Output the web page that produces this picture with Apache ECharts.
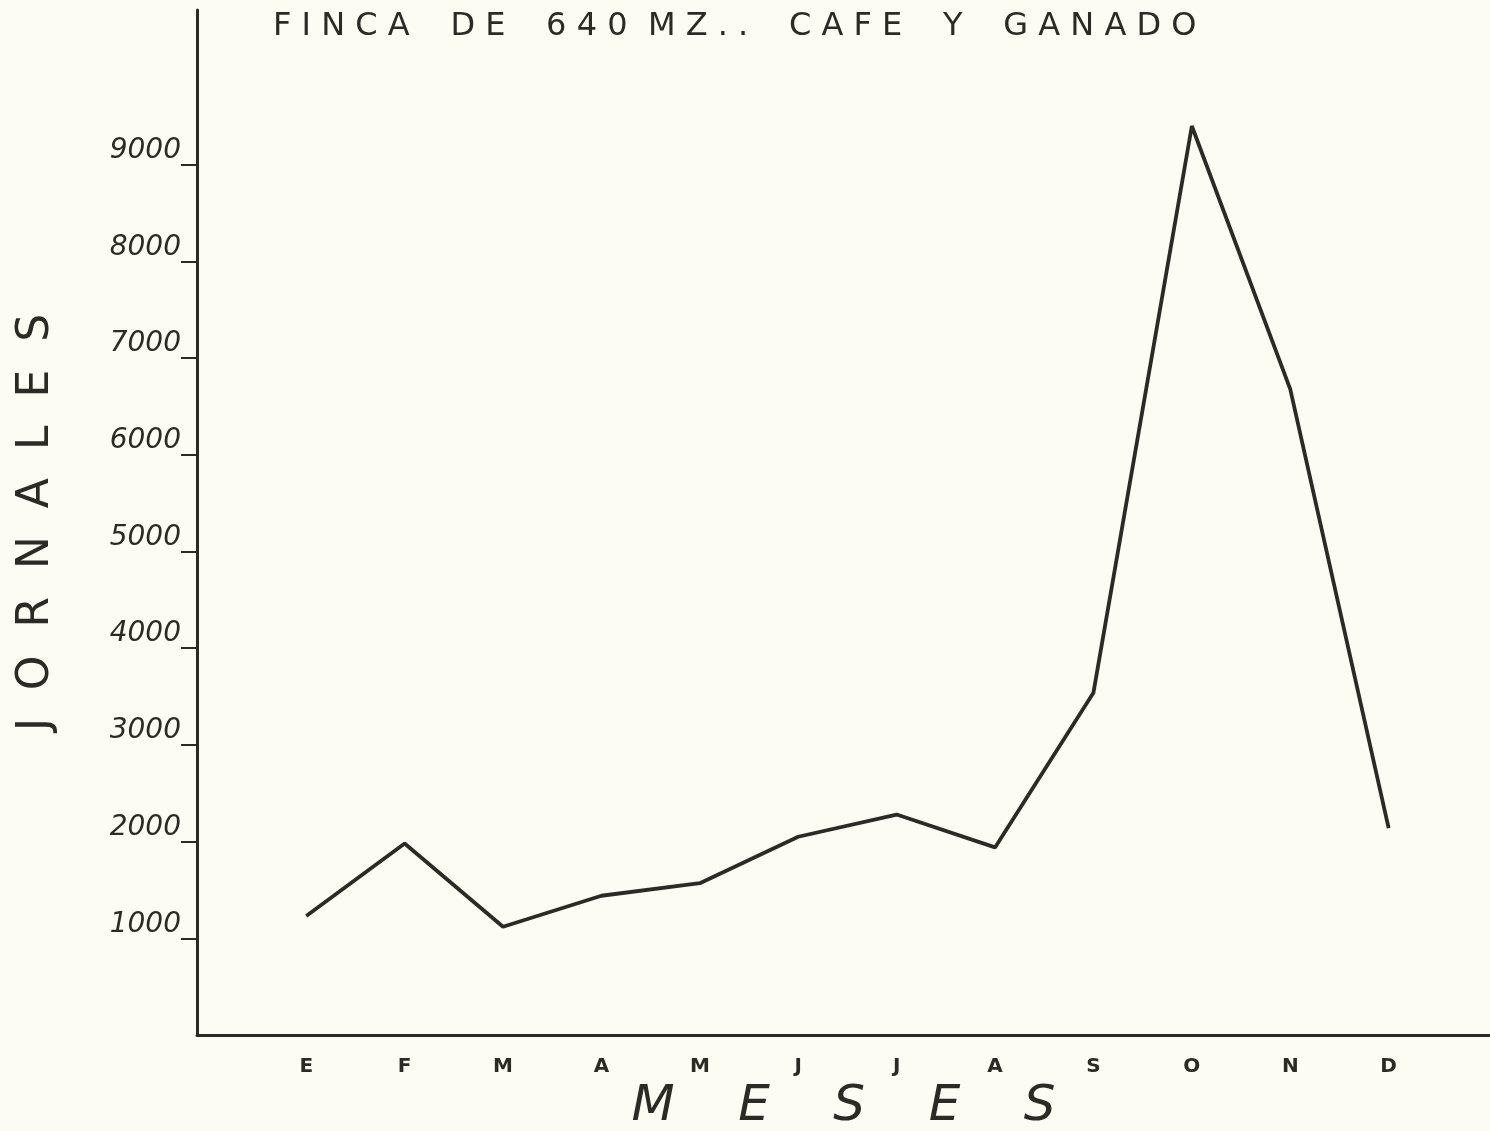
<!DOCTYPE html>
<html>
<head>
<meta charset="utf-8">
<script src="https://cdn.jsdelivr.net/npm/echarts@6/dist/echarts.min.js"></script>
<style>
html,body{margin:0;padding:0;background:#fdfcf2;}
#chart{width:1490px;height:1131px;}
</style>
</head>
<body>
<div id="chart"></div>
<script>
const titleText = 'F I N C A    D E    6 4 0  M Z . .    C A F E    Y    G A N A D O';
const months = ['E','F','M','A','M','J','J','A','S','O','N','D'];
const jornales = [1230, 1980, 1120, 1440, 1570, 2050, 2280, 1940, 3540, 9400, 6680, 2140];
const yTicks = [1000, 2000, 3000, 4000, 5000, 6000, 7000, 8000, 9000];
const xName = 'M    E    S    E    S';
const yName = 'J  O  R  N  A  L  E  S';

const ink = '#2b2b26';
const chart = echarts.init(document.getElementById('chart'));
chart.setOption({
  backgroundColor: '#fdfcf2',
  animation: false,
  title: {
    text: titleText,
    left: 268, top: 6,
    textStyle: {fontFamily: 'DejaVu Sans', fontSize: 32, fontWeight: 'normal', color: ink}
  },
  grid: {left: 197, right: 0, top: 10, bottom: 96, outerBoundsMode: 'none', containLabel: false},
  xAxis: {
    type: 'value',
    min: -1.11, max: 12.03,
    name: xName,
    nameLocation: 'middle',
    nameGap: 46,
    nameTextStyle: {fontFamily: 'DejaVu Sans', fontStyle: 'italic', fontSize: 50, color: ink},
    axisLine: {onZero: false, lineStyle: {color: ink, width: 3}},
    axisTick: {show: false},
    splitLine: {show: false},
    axisLabel: {
      customValues: months.map((m, i) => i),
      formatter: v => months[Math.round(v)] || '',
      fontFamily: 'DejaVu Sans', fontWeight: 'bold', fontSize: 20, color: ink, margin: 22
    }
  },
  yAxis: {
    type: 'value',
    min: 0, max: 10600, interval: 1000,
    name: yName,
    nameLocation: 'middle',
    nameGap: 138,
    nameTextStyle: {fontFamily: 'DejaVu Sans', fontSize: 44, color: ink},
    axisLine: {show: true, onZero: false, lineStyle: {color: ink, width: 3}},
    axisTick: {show: true, customValues: yTicks, length: 16, lineStyle: {color: ink, width: 2}},
    splitLine: {show: false},
    axisLabel: {
      customValues: yTicks,
      formatter: v => String(v),
      verticalAlign: 'bottom',
      fontFamily: 'DejaVu Sans', fontStyle: 'italic', fontSize: 28, color: ink, margin: 16
    }
  },
  series: [{
    type: 'line',
    data: jornales.map((v, i) => [i, v]),
    symbol: 'none',
    lineStyle: {color: ink, width: 3.8},
    z: 3
  }]
});
</script>
</body>
</html>
